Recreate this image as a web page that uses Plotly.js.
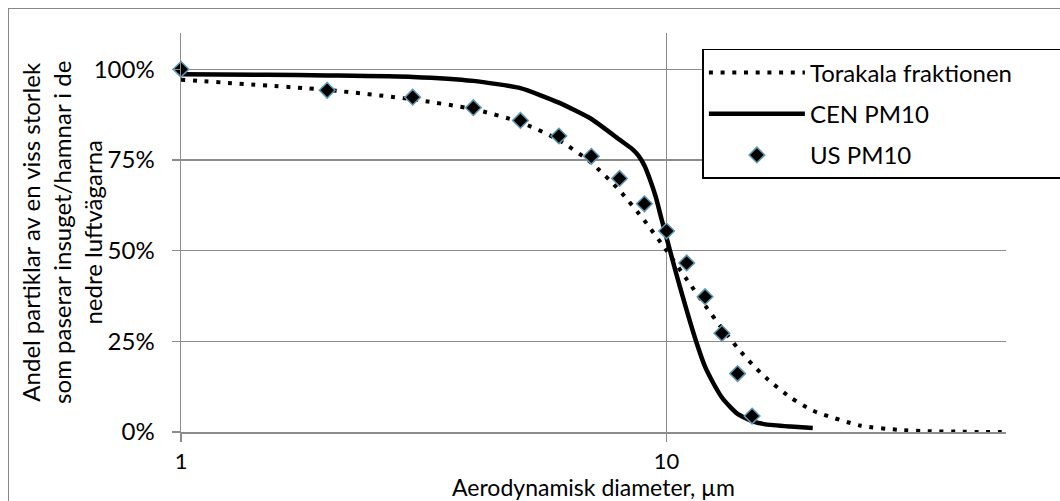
<!DOCTYPE html>
<html>
<head>
<meta charset="utf-8">
<script src="https://cdn.plot.ly/plotly-3.0.1.min.js"></script>
<style>
  html, body { margin: 0; padding: 0; overflow: hidden; background: #fff; }
  #wrap { position: relative; width: 1060px; height: 501px; }
  #chart { position: absolute; left: 0; top: 0; width: 1060px; height: 501px; }
  #frame { position: absolute; left: 8px; top: 8px; width: 2000px; height: 2000px;
           border-left: 1.5px solid #878787; border-top: 1.5px solid #878787; pointer-events: none; }
</style>
</head>
<body>
<div id="wrap"><div id="chart"></div><div id="frame"></div></div>
<script>
// Aerodynamic diameter (µm) and fractions
const diamThoracic = [1, 2, 3, 4, 5, 6, 7, 8, 9, 10, 11, 12, 13, 14, 15, 16, 18, 20, 25, 30, 35, 40, 45, 50];
const thoracic = [0.971, 0.943, 0.917, 0.890, 0.854, 0.805, 0.742, 0.666, 0.583, 0.500, 0.421, 0.349,
                  0.286, 0.232, 0.187, 0.150, 0.095, 0.059, 0.018, 0.006, 0.002, 0.001, 0.000, 0.000];

const diamCEN = [1, 1.5, 2, 3, 4, 5, 6, 7, 8, 8.5, 8.75, 9, 9.25, 9.5, 9.75, 10, 10.5, 11, 11.5, 12,
                 12.5, 13, 13.5, 14, 15, 16, 18, 20];
const cenPM10 = [0.986, 0.985, 0.983, 0.979, 0.968, 0.948, 0.908, 0.863, 0.806, 0.780, 0.762, 0.735,
                 0.695, 0.648, 0.590, 0.535, 0.430, 0.335, 0.250, 0.180, 0.133, 0.095, 0.070, 0.050,
                 0.030, 0.021, 0.015, 0.011];

const diamUS = [1, 2, 3, 4, 5, 6, 7, 8, 9, 10, 11, 12, 13, 14, 15];
const usPM10 = [1.000, 0.942, 0.923, 0.894, 0.859, 0.816, 0.760, 0.699, 0.629, 0.554, 0.466, 0.373, 0.272, 0.161, 0.044];

const seriesNames = ['Torakala fraktionen\u00a0\u00a0\u00a0\u00a0\u00a0\u00a0\u00a0', 'CEN PM10', 'US PM10'];
const yTickVals = [0, 0.25, 0.5, 0.75, 1];
const xTickVals = [1, 10];
const xTickText = ['1', '10'];
const xTitle = 'Aerodynamisk diameter, µm';
const yTitle = 'Andel partiklar av en viss storlek<br>som paserar insuget/hamnar i de<br>nedre luftvägarna';

const FONT = 'Lato, "Open Sans", sans-serif';
const FS = 24;
const GRID = '#8c8c8c';

const traces = [
  {
    x: diamThoracic, y: thoracic, name: seriesNames[0], type: 'scatter', mode: 'lines',
    line: { color: '#000', width: 4, dash: '4px,7.7px', shape: 'spline', smoothing: 0.6 },
    legendgroup: 'a', cliponaxis: false
  },
  {
    x: diamCEN, y: cenPM10, name: seriesNames[1], type: 'scatter', mode: 'lines',
    line: { color: '#000', width: 4.5, shape: 'spline', smoothing: 0.5 },
    legendgroup: 'b'
  },
  {
    x: diamUS, y: usPM10, name: seriesNames[2], type: 'scatter', mode: 'markers',
    marker: { symbol: 'diamond', size: 12, color: '#000', line: { color: '#5f98b0', width: 1.5 } },
    legendgroup: 'c', cliponaxis: false
  }
];

const layout = {
  width: 1060, height: 501,
  margin: { l: 181, r: 54, t: 33, b: 69, pad: 0, autoexpand: false },
  paper_bgcolor: 'rgba(0,0,0,0)', plot_bgcolor: '#fff',
  font: { family: FONT, size: FS, color: '#000' },
  showlegend: true,
  legend: {
    x: 0.632, y: 0.96, xanchor: 'left', yanchor: 'top',
    bgcolor: '#fff', bordercolor: '#000', borderwidth: 1.5,
    font: { family: FONT, size: FS, color: '#000' },
    tracegroupgap: 7, itemwidth: 96, traceorder: 'grouped'
  },
  xaxis: {
    type: 'log', range: [0, Math.log10(50)],
    tickmode: 'array', tickvals: xTickVals, ticktext: xTickText,
    showgrid: true, gridcolor: GRID, gridwidth: 1.5,
    showline: true, linecolor: GRID, linewidth: 1.5,
    ticks: 'outside', ticklen: 8, tickcolor: GRID, tickwidth: 1.5,
    zeroline: false, ticklabelstandoff: 1,
    tickfont: { family: FONT, size: 22 },
    title: { text: xTitle, font: { family: FONT, size: 23 }, standoff: 4 }
  },
  yaxis: {
    range: [0, 1.1], tickmode: 'array', tickvals: yTickVals, tickformat: '.0%',
    showgrid: true, gridcolor: GRID, gridwidth: 1.5,
    showline: true, linecolor: GRID, linewidth: 1.5,
    ticks: 'outside', ticklen: 8, tickcolor: GRID, tickwidth: 1.5,
    zeroline: false, ticklabelstandoff: 12,
    tickfont: { family: FONT, size: FS }
  },
  annotations: [{
    text: yTitle, xref: 'paper', yref: 'paper', x: -0.145, y: 0.5,
    xanchor: 'center', yanchor: 'middle', textangle: -90, showarrow: false,
    font: { family: FONT, size: FS, color: '#000' }
  }]
};

Plotly.newPlot('chart', traces, layout, { staticPlot: true, displayModeBar: false });
</script>
</body>
</html>
